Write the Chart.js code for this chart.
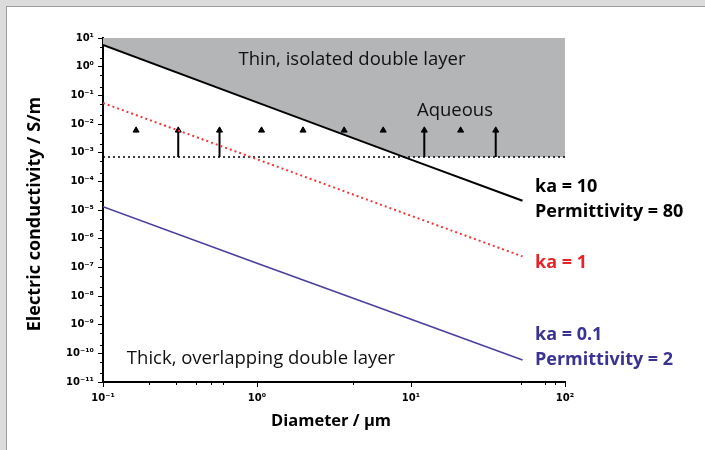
<!DOCTYPE html>
<html>
<head>
<meta charset="utf-8">
<script src="https://cdn.jsdelivr.net/npm/chart.js@4.4.0/dist/chart.umd.min.js"></script>
<style>
  body { margin: 0; background: #dcdcdc; }
  #panel { position: absolute; left: 6px; top: 6px; width: 720px; height: 460px; background: #fff; border: 1px solid #9c9c9c; }
  #myChart { position: absolute; left: 0; top: 0; }
</style>
</head>
<body>
<div id="panel"></div>
<canvas id="myChart" width="705" height="450"></canvas>
<script>
// diameters in micrometres, conductivities in S/m
const diameters = [0.1, 1, 10, 53];
const ka10 = [5.7, 0.057, 5.7e-4, 2.1e-5];
const ka1 = [0.054, 5.9e-4, 6.3e-6, 2.4e-7];
const ka01 = [1.3e-5, 1.4e-7, 1.55e-9, 5.9e-11];

// upper edge of the shaded region (thin double layer)
const thinEdgeX = [0.1, 9.0, 100];
const thinEdgeY = [5.7, 7e-4, 7e-4];

// aqueous conductivity level and the marks above it
const aqueousLevel = 7e-4;
const aqueousX = [0.1, 100];
const markerLevel = 6e-3;
const markerX = [0.164, 0.308, 0.571, 1.07, 1.99, 3.68, 6.6, 12.2, 21, 35.5];
const arrowX = [0.308, 0.571, 12.2, 35.5];

const xDecades = [0.1, 1, 10, 100];
const yDecades = [10, 1, 0.1, 1e-2, 1e-3, 1e-4, 1e-5, 1e-6, 1e-7, 1e-8, 1e-9, 1e-10, 1e-11];
const xMinor = [0.2, 0.3, 0.4, 0.5, 0.6, 4.2, 52, 74, 86];
const yMinor = [];
yDecades.slice(1).forEach(d => { yMinor.push(d * 2, d * 5); });

const pts = (xs, ys) => xs.map((x, i) => ({ x: x, y: ys[i] }));

const arrowPts = [];
arrowX.forEach(x => {
    arrowPts.push({ x: x, y: aqueousLevel }, { x: x, y: markerLevel }, { x: x, y: null });
});

const sup = { '-': '⁻', '0': '⁰', '1': '¹', '2': '²', '3': '³', '4': '⁴', '5': '⁵', '6': '⁶', '7': '⁷', '8': '⁸', '9': '⁹' };
const pow10 = v => '10' + String(Math.round(Math.log10(v))).split('').map(c => sup[c]).join('');

const notes = [
    { text: 'Thin, isolated double layer', x: 352, y: 60, font: '18.5px "Open Sans"', color: '#111', align: 'center' },
    { text: 'Aqueous', x: 455, y: 111, font: '18.5px "Open Sans"', color: '#111', align: 'center' },
    { text: 'Thick, overlapping double layer', x: 261, y: 359, font: '18.5px "Open Sans"', color: '#111', align: 'center' },
    { text: 'ka = 10', x: 535, y: 187, font: 'bold 18px "Open Sans"', color: '#000', align: 'left' },
    { text: 'Permittivity = 80', x: 535, y: 212, font: 'bold 18px "Open Sans"', color: '#000', align: 'left' },
    { text: 'ka = 1', x: 535, y: 263, font: 'bold 18px "Open Sans"', color: '#e8242b', align: 'left' },
    { text: 'ka = 0.1', x: 535, y: 335, font: 'bold 18px "Open Sans"', color: '#3a3391', align: 'left' },
    { text: 'Permittivity = 2', x: 535, y: 360, font: 'bold 18px "Open Sans"', color: '#3a3391', align: 'left' }
];

const extras = {
    id: 'extras',
    afterDraw(chart) {
        const c = chart.ctx;
        const xs = chart.scales.x, ys = chart.scales.y;
        c.save();
        c.strokeStyle = '#000';
        c.lineWidth = 1;
        xMinor.forEach(v => {
            const px = Math.round(xs.getPixelForValue(v)) + 0.5;
            c.beginPath(); c.moveTo(px, ys.bottom); c.lineTo(px, ys.bottom + 3); c.stroke();
        });
        yMinor.forEach(v => {
            const py = Math.round(ys.getPixelForValue(v)) + 0.5;
            c.beginPath(); c.moveTo(xs.left - 3, py); c.lineTo(xs.left, py); c.stroke();
        });
        c.textBaseline = 'middle';
        notes.forEach(n => {
            c.font = n.font;
            c.fillStyle = n.color;
            c.textAlign = n.align;
            c.fillText(n.text, n.x, n.y);
        });
        c.fillStyle = '#000';
        c.textAlign = 'center';
        c.font = 'bold 16.5px "Open Sans"';
        c.fillText('Diameter / µm', 331, 421);
        c.font = 'bold 18px "Open Sans"';
        c.translate(35, 214);
        c.rotate(-Math.PI / 2);
        c.fillText('Electric conductivity / S/m', 0, 0);
        c.restore();
    }
};

const ctx = document.getElementById('myChart').getContext('2d');
new Chart(ctx, {
    type: 'scatter',
    data: {
        datasets: [
            {
                label: 'Thin double layer',
                data: pts(thinEdgeX, thinEdgeY),
                order: 9,
                showLine: true,
                fill: 'end',
                backgroundColor: '#b4b5b6',
                borderColor: 'rgba(0,0,0,0)',
                borderWidth: 0,
                pointRadius: 0
            },
            {
                label: 'Aqueous',
                data: pts(aqueousX, [aqueousLevel, aqueousLevel]),
                order: 5,
                showLine: true,
                borderColor: '#000',
                borderWidth: 1.5,
                borderDash: [2, 3],
                pointRadius: 0
            },
            {
                label: 'Arrows',
                data: arrowPts,
                order: 4,
                showLine: true,
                spanGaps: false,
                borderColor: '#000',
                borderWidth: 2,
                pointRadius: 0
            },
            {
                label: 'Markers',
                data: markerX.map(x => ({ x: x, y: markerLevel })),
                order: 3,
                pointStyle: 'triangle',
                pointRadius: 3.5,
                pointBackgroundColor: '#000',
                pointBorderColor: '#000'
            },
            {
                label: 'ka = 10',
                data: pts(diameters, ka10),
                order: 1,
                showLine: true,
                borderColor: '#000',
                borderWidth: 2,
                pointRadius: 0
            },
            {
                label: 'ka = 1',
                data: pts(diameters, ka1),
                order: 1,
                showLine: true,
                borderColor: '#f03838',
                borderWidth: 2,
                borderDash: [2, 3],
                pointRadius: 0
            },
            {
                label: 'ka = 0.1',
                data: pts(diameters, ka01),
                order: 1,
                showLine: true,
                borderColor: '#4a3f9f',
                borderWidth: 1.6,
                pointRadius: 0
            }
        ]
    },
    options: {
        responsive: false,
        animation: false,
        devicePixelRatio: 1,
        layout: { padding: { left: 0, right: 140, top: 38, bottom: 0 } },
        plugins: {
            legend: { display: false },
            tooltip: { enabled: false }
        },
        scales: {
            x: {
                type: 'logarithmic',
                min: 0.1,
                max: 100,
                afterFit: s => { s.height = 68; },
                afterBuildTicks: s => { s.ticks = xDecades.map(v => ({ value: v, major: true })); },
                ticks: {
                    callback: v => pow10(v),
                    font: { family: 'DejaVu Sans', size: 10, weight: 'bold' },
                    color: '#000',
                    padding: 5,
                    maxRotation: 0
                },
                grid: { drawOnChartArea: false, color: '#000', tickLength: 5 },
                border: { color: '#000', width: 2 }
            },
            y: {
                type: 'logarithmic',
                min: 1e-11,
                max: 10,
                afterFit: s => { s.width = 103; },
                afterBuildTicks: s => { s.ticks = yDecades.map(v => ({ value: v, major: true })); },
                ticks: {
                    callback: v => pow10(v),
                    font: { family: 'DejaVu Sans', size: 10, weight: 'bold' },
                    color: '#000',
                    padding: 4
                },
                grid: { drawOnChartArea: false, color: '#000', tickLength: 5 },
                border: { color: '#000', width: 2 }
            }
        }
    },
    plugins: [extras]
});
</script>
</body>
</html>
